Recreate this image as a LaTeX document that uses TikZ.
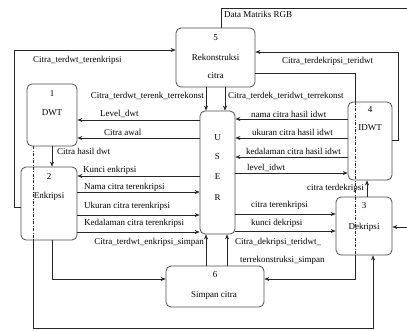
\documentclass[tikz,border=0pt]{standalone}
\usepackage{fontspec}
\setmainfont{Liberation Serif}
\usetikzlibrary{arrows.meta}
\begin{document}
\begin{tikzpicture}[x=1pt,y=-1pt,
  proc/.style={draw=black!70, line width=0.8pt, rounded corners=5pt, inner sep=0pt},
  flow/.style={line width=0.6pt, draw=black!85},
  arr/.style={flow, -{Stealth[length=5pt,width=4pt]}},
  dd/.style={line width=0.6pt, draw=black!85, dash pattern=on 3pt off 1.5pt on 0.8pt off 1.5pt},
  lbl/.style={font=\fontsize{9}{10}\selectfont, inner sep=0pt, anchor=west},
  txt/.style={font=\fontsize{9}{10}\selectfont, inner sep=0pt}]
\useasboundingbox (0,0) rectangle (407,330);

% processes
\node[proc, minimum width=79pt, minimum height=59pt] (p5) at (215.5,57.5) {};
\node[proc, minimum width=50pt, minimum height=62pt] (p1) at (52,115) {};
\node[proc, minimum width=56pt, minimum height=73pt] (p2) at (49,203.5) {};
\node[proc, minimum width=35pt, minimum height=123pt] (user) at (217.5,172.5) {};
\node[proc, minimum width=44pt, minimum height=78pt] (p4) at (370,141) {};
\node[proc, minimum width=56pt, minimum height=58pt] (p3) at (364,226) {};
\node[proc, minimum width=98pt, minimum height=41pt] (p6) at (215,286.5) {};

% texts in boxes
\node[txt] (p5a) at (215.5,38) {5};
\node[txt] (p5b) at (215.5,57) {Rekonstruksi};
\node[txt] (p5c) at (215.5,76) {citra};
\node[txt] (p1a) at (52,94) {1};
\node[txt] (p1b) at (52,113) {DWT};
\node[txt] (p2a) at (49,177) {2};
\node[txt] (p2b) at (49,196) {Enkripsi};
\node[txt] (u1) at (217.5,138) {U};
\node[txt] (u2) at (217.5,157) {S};
\node[txt] (u3) at (217.5,177) {E};
\node[txt] (u4) at (217.5,198) {R};
\node[txt] (p4a) at (370,110) {4};
\node[txt] (p4b) at (370,128) {IDWT};
\node[txt] (p3a) at (364,206) {3};
\node[txt] (p3b) at (364,227) {Dekripsi};
\node[txt] (p6a) at (215,275) {6};
\node[txt] (p6b) at (214,295) {Simpan citra};

% outer flows
\coordinate (rgbR) at (407,8);
\draw[flow] (p5.north -| 221,0) |- (rgbR);
\node[lbl] (lrgb) at (224,14) {Data Matriks RGB};

\draw[arr] (p2.west |- 0,207) -| (14,50) -- (p5.west |- 0,50);
\node[lbl] (l1) at (33,60) {Citra\_terdwt\_terenkripsi};

\draw[dd] (p1.south -| 33,0) -- (p2.south -| 33,0);
\draw[arr] (p2.south -| 33,0) -- (33,328) -| (p3.south -| 373,0);

\coordinate (rin) at (407,227);
\draw[arr] (rin) -- (p3.east |- 0,227);

\draw[flow] (p5.east |- 0,73) -| (p4.north -| 355,0);
\draw[dd] (p4.north -| 355,0) -- (p3.south -| 355,0);
\draw[arr] (p3.south -| 355,0) |- (p6.east |- 0,279);

\draw[arr] (p4.east |- 0,140) -| (398,52) -- (p5.east |- 0,52);
\node[lbl] (l2) at (282,61) {Citra\_terdekripsi\_teridwt};

% p5 -> user
\draw[arr] (p5.south -| 206,0) -- (user.north -| 206,0);
\draw[arr] (p5.south -| 225,0) -- (user.north -| 225,0);
\node[lbl, anchor=east] (l3) at (204,96) {Citra\_terdwt\_terenk\_terrekonst};
\node[lbl] (l4) at (228,96) {Citra\_terdek\_teridwt\_terrekonst};

% user <-> p1, p2
\draw[arr] (user.west |- 0,120) -- (p1.east |- 0,120);
\node[lbl] (l5) at (100,114) {Level\_dwt};
\draw[arr] (user.west |- 0,138) -- (p1.east |- 0,138);
\node[lbl] (l6) at (104,132) {Citra awal};
\draw[arr] (p1.south -| 52,0) -- (p2.north -| 52,0);
\node[lbl] (l7) at (57,151) {Citra hasil dwt};
\draw[arr] (user.west |- 0,176) -- (p2.east |- 0,176);
\node[lbl] (l8) at (83,170) {Kunci enkripsi};
\draw[arr] (p2.east |- 0,192) -- (user.west |- 0,192);
\node[lbl] (l9) at (84,187) {Nama citra terenkripsi};
\draw[arr] (p2.east |- 0,215) -- (user.west |- 0,215);
\node[lbl] (l10) at (84,206) {Ukuran citra terenkripsi};
\draw[arr] (p2.east |- 0,232) -- (user.west |- 0,232);
\node[lbl] (l11) at (84,223) {Kedalaman citra terenkripsi};

% p2 -> p6, p6 -> user
\draw[arr] (p2.south -| 52,0) |- (p6.west |- 0,279);
\draw[arr] (p6.north -| 206,0) -- (user.south -| 206,0);
\draw[arr] (p6.north -| 227,0) -- (user.south -| 227,0);
\node[lbl, anchor=east] (l12) at (204,242) {Citra\_terdwt\_enkripsi\_simpan};
\node[lbl] (l13) at (235,242) {Citra\_dekripsi\_teridwt\_};
\node[lbl] (l14) at (240,260) {terrekonstruksi\_simpan};

% p4 <-> user
\draw[arr] (p4.west |- 0,119) -- (user.east |- 0,119);
\node[lbl] (l15) at (251,114) {nama citra hasil idwt};
\draw[arr] (p4.west |- 0,138) -- (user.east |- 0,138);
\node[lbl] (l16) at (252,132) {ukuran citra hasil idwt};
\draw[arr] (p4.west |- 0,157) -- (user.east |- 0,157);
\node[lbl] (l17) at (246,151) {kedalaman citra hasil idwt};
\draw[arr] (user.east |- 0,173) -- (p4.west |- 0,173);
\node[lbl] (l18) at (247,168) {level\_idwt};

% p3
\draw[arr] (p3.north -| 367,0) -- (p4.south -| 367,0);
\node[lbl, anchor=east] (l19) at (364,188) {citra terdekripsi};
\draw[arr] (user.east |- 0,214) -- (p3.west |- 0,214);
\node[lbl] (l20) at (251,205) {citra terenkripsi};
\draw[arr] (user.east |- 0,231) -- (p3.west |- 0,231);
\node[lbl] (l21) at (251,223) {kunci dekripsi};
\end{tikzpicture}
\end{document}
